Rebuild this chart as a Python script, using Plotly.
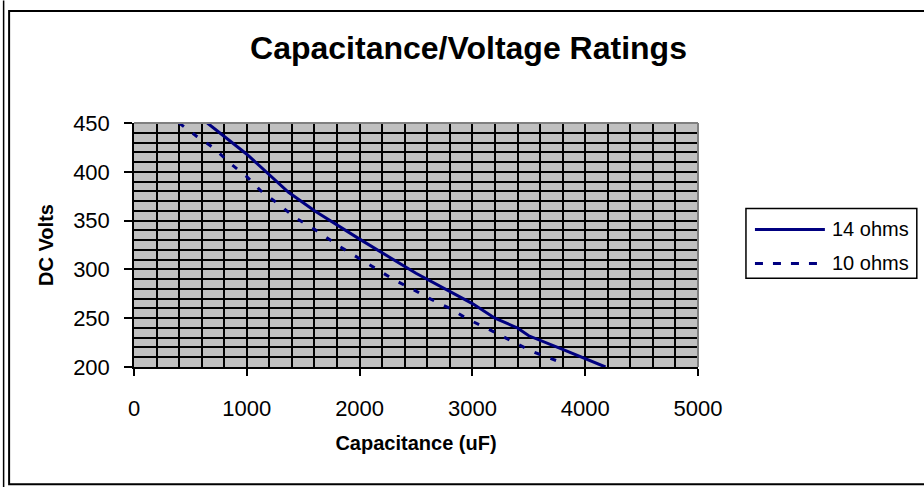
import plotly.graph_objects as go

# ---- data ----
cap_14 = [650, 1000, 1370, 1600, 2000, 2500, 3000, 3200, 3400, 3500, 3800, 4180]
volt_14 = [450, 418, 379, 360, 331, 296, 265, 250, 240, 232, 218, 200]

cap_10 = [400, 560, 700, 850, 1000, 1120, 1280, 1430, 1600, 1830, 2000, 2150,
          2310, 2480, 2640, 2800, 2960, 3140, 3300, 3390, 3550, 3780]
volt_10 = [450, 436, 425, 409, 395, 381, 367, 353, 341, 323, 311, 300,
           289, 279, 269, 260, 249, 239, 229, 224, 215, 205]

series_names = ["14 ohms", "10 ohms"]
title_text = "Capacitance/Voltage Ratings"
x_title = "Capacitance (uF)"
y_title = "DC Volts"

W, H = 924, 487
L, R, T, B = 133.5, 698.0, 122.5, 366.7
FONT = "Arial, Liberation Sans, sans-serif"
NAVY = "#000080"


def px(xp):
    return (xp - L) / (R - L)


def py(yp):
    return (B - yp) / (B - T)


fig = go.Figure()
fig.add_trace(go.Scatter(x=cap_14, y=volt_14, mode="lines", name=series_names[0],
                         line=dict(color=NAVY, width=3), showlegend=False))
fig.add_trace(go.Scatter(x=cap_10, y=volt_10, mode="lines", name=series_names[1],
                         line=dict(color=NAVY, width=3, dash="6px,11px"), showlegend=False))

axis_common = dict(
    showline=True, linecolor="black", linewidth=1.5,
    ticks="outside", tickcolor="black", tickwidth=1.5,
    showgrid=True, gridcolor="black", gridwidth=2,
    zeroline=False,
    tickfont=dict(family=FONT, size=22, color="black"),
)

fig.update_xaxes(range=[0, 5000], dtick=1000, ticklen=7, ticklabelstandoff=14,
                 minor=dict(dtick=200, showgrid=True, gridcolor="black", gridwidth=2),
                 title=dict(text=x_title, standoff=16,
                            font=dict(family=FONT, size=20, color="black", weight="bold")),
                 **axis_common)
fig.update_yaxes(range=[200, 450], dtick=50, ticklen=8, ticklabelstandoff=10,
                 minor=dict(dtick=10, showgrid=True, gridcolor="black", gridwidth=2),
                 title=dict(text=y_title, standoff=14,
                            font=dict(family=FONT, size=20, color="black", weight="bold")),
                 **axis_common)

shapes = [
    # plot-area frame on top / right (gray)
    dict(type="line", xref="paper", yref="paper", x0=0, x1=1, y0=1, y1=1,
         line=dict(color="#808080", width=2)),
    dict(type="line", xref="paper", yref="paper", x0=1, x1=1, y0=0, y1=1,
         line=dict(color="#808080", width=2)),
    # outer chart border
    dict(type="rect", xref="paper", yref="paper",
         x0=px(8.5), x1=px(940), y0=py(484), y1=py(10.5),
         line=dict(color="black", width=2), fillcolor="rgba(0,0,0,0)"),
    dict(type="line", xref="paper", yref="paper",
         x0=px(3), x1=px(3), y0=py(487), y1=py(0),
         line=dict(color="black", width=1.5)),
    # legend box
    dict(type="rect", xref="paper", yref="paper",
         x0=px(746), x1=px(917), y0=py(278), y1=py(208),
         line=dict(color="black", width=1.5), fillcolor="white"),
    dict(type="line", xref="paper", yref="paper",
         x0=px(755), x1=px(825), y0=py(229), y1=py(229),
         line=dict(color=NAVY, width=3)),
    dict(type="line", xref="paper", yref="paper",
         x0=px(755), x1=px(825), y0=py(263), y1=py(263),
         line=dict(color=NAVY, width=3, dash="8px,10px")),
]

annotations = [
    dict(text=series_names[0], xref="paper", yref="paper", x=px(830), y=py(229),
         xanchor="left", yanchor="middle", showarrow=False,
         font=dict(family=FONT, size=20, color="black")),
    dict(text=series_names[1], xref="paper", yref="paper", x=px(830), y=py(263),
         xanchor="left", yanchor="middle", showarrow=False,
         font=dict(family=FONT, size=20, color="black")),
]

fig.update_layout(
    width=W, height=H,
    margin=dict(l=L, r=W - R, t=T, b=H - B, autoexpand=False),
    paper_bgcolor="white", plot_bgcolor="#c0c0c0",
    title=dict(text=title_text, x=468.5 / W, xanchor="center",
               y=1 - 48 / H, yanchor="middle",
               font=dict(family=FONT, size=32, color="black", weight="bold")),
    shapes=shapes, annotations=annotations,
    showlegend=False,
)

fig.write_html(
    "out.html",
    config={"displayModeBar": False},
    post_script="document.body.style.margin='0';document.body.style.overflow='hidden';",
)
